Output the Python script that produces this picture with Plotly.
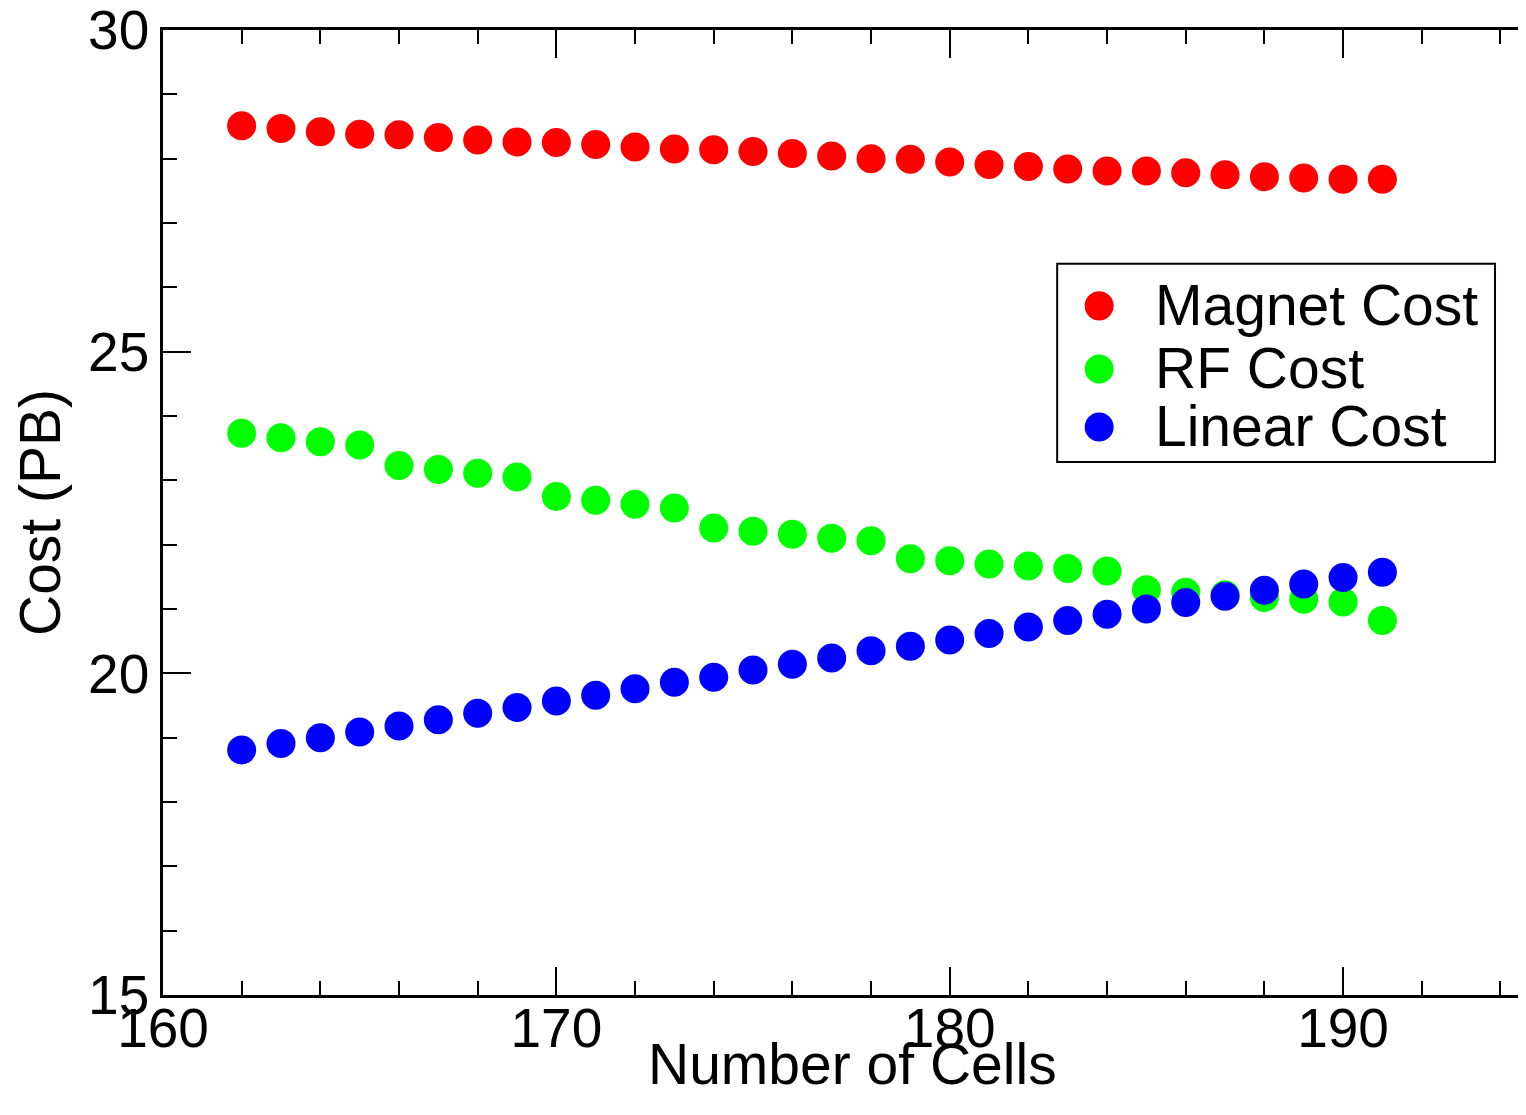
import plotly.graph_objects as go

# ---- data ----
cells = list(range(162, 192))
magnet_cost = [28.51, 28.47, 28.42, 28.38, 28.37, 28.33, 28.29, 28.26, 28.25, 28.22,
               28.18, 28.15, 28.14, 28.11, 28.08, 28.04, 28.00, 27.99, 27.95, 27.91,
               27.88, 27.84, 27.81, 27.81, 27.78, 27.75, 27.72, 27.70, 27.68, 27.68]
rf_cost = [23.73, 23.66, 23.60, 23.55, 23.23, 23.17, 23.11, 23.05, 22.75, 22.69,
           22.63, 22.57, 22.26, 22.21, 22.16, 22.10, 22.06, 21.78, 21.75, 21.70,
           21.67, 21.63, 21.59, 21.30, 21.26, 21.22, 21.18, 21.15, 21.11, 20.82]
linear_cost = [18.81, 18.91, 19.00, 19.09, 19.18, 19.28, 19.38, 19.47, 19.57, 19.66,
               19.76, 19.86, 19.94, 20.05, 20.14, 20.24, 20.35, 20.42, 20.52, 20.62,
               20.72, 20.82, 20.92, 21.00, 21.10, 21.20, 21.29, 21.39, 21.49, 21.57]
series_names = ["Magnet Cost", "RF Cost", "Linear Cost"]
series_colors = ["#ff0000", "#00ff00", "#0000ff"]
x_title = "Number of Cells"
y_title = "Cost (PB)"

FONT = "Liberation Sans, Arial, sans-serif"
OFF = 8  # page body margin
W, H = 1526 - OFF, 1090
ML, MT = 162.5 - OFF, 30.3 - OFF
MB = H - (994.7 - OFF)
PW, PH = W - ML, H - MT - MB


def px(x):
    return (x - OFF - ML) / PW


def py(y):
    return (H - MB - (y - OFF)) / PH


fig = go.Figure()
for name, vals, col in zip(series_names, [magnet_cost, rf_cost, linear_cost], series_colors):
    fig.add_trace(go.Scatter(x=cells, y=vals, mode="markers", name=name,
                             marker=dict(size=29, color=col, line=dict(width=0)),
                             showlegend=False))

# manual legend (box, symbols, labels)
shapes = [dict(type="rect", xref="paper", yref="paper",
               x0=px(1057), x1=px(1495), y0=py(462), y1=py(264),
               line=dict(color="black", width=2), fillcolor="white", layer="below")]
annotations = []
rows_y = [306, 369, 427]
for name, col, ry in zip(series_names, series_colors, rows_y):
    shapes.append(dict(type="circle", xref="paper", yref="paper",
                       x0=px(1099 - 14.5), x1=px(1099 + 14.5),
                       y0=py(ry + 14.5), y1=py(ry - 14.5),
                       line=dict(width=0), fillcolor=col))
    annotations.append(dict(text=name, xref="paper", yref="paper",
                            x=px(1153), y=py(ry - 1), xanchor="left", yanchor="middle",
                            showarrow=False, font=dict(family=FONT, size=57, color="black")))

# x-axis title placed as an annotation so it can sit tight under the tick labels
annotations.append(dict(text=x_title, xref="paper", yref="paper",
                        x=px(852), y=py(1064), xanchor="center", yanchor="middle",
                        showarrow=False, font=dict(family=FONT, size=57, color="black")))

fig.update_layout(
    width=W, height=H,
    margin=dict(l=ML, r=0, t=MT, b=MB, autoexpand=False),
    paper_bgcolor="white", plot_bgcolor="white",
    font=dict(family=FONT, color="black"),
    shapes=shapes, annotations=annotations,
    showlegend=False,
    xaxis=dict(range=[160, 160 + PW / 39.35], tick0=160, dtick=10,
               ticks="inside", ticklen=28, tickwidth=2, tickcolor="black",
               minor=dict(dtick=2, ticks="inside", ticklen=14, tickwidth=2, tickcolor="black"),
               showline=True, linewidth=2.5, linecolor="black", mirror="ticks",
               showgrid=False, zeroline=False, ticklabeloverflow="allow",
               ticklabelstandoff=-17,
               tickfont=dict(family=FONT, size=55)),
    yaxis=dict(range=[15, 30], tick0=15, dtick=5,
               ticks="inside", ticklen=28, tickwidth=2, tickcolor="black",
               minor=dict(dtick=1, ticks="inside", ticklen=14, tickwidth=2, tickcolor="black"),
               showline=True, linewidth=2.5, linecolor="black", mirror=False,
               showgrid=False, zeroline=False, ticklabeloverflow="allow",
               tickfont=dict(family=FONT, size=55),
               title=dict(text=y_title, font=dict(family=FONT, size=57), standoff=13)),
    yaxis2=dict(range=[15, 30], overlaying="y", side="right", anchor="x",
                tickvals=[15, 20, 25, 30], ticks="inside", ticklen=6, tickwidth=2,
                tickcolor="black", showticklabels=False, showline=False,
                showgrid=False, zeroline=False),
)

fig.write_html("out.html")
